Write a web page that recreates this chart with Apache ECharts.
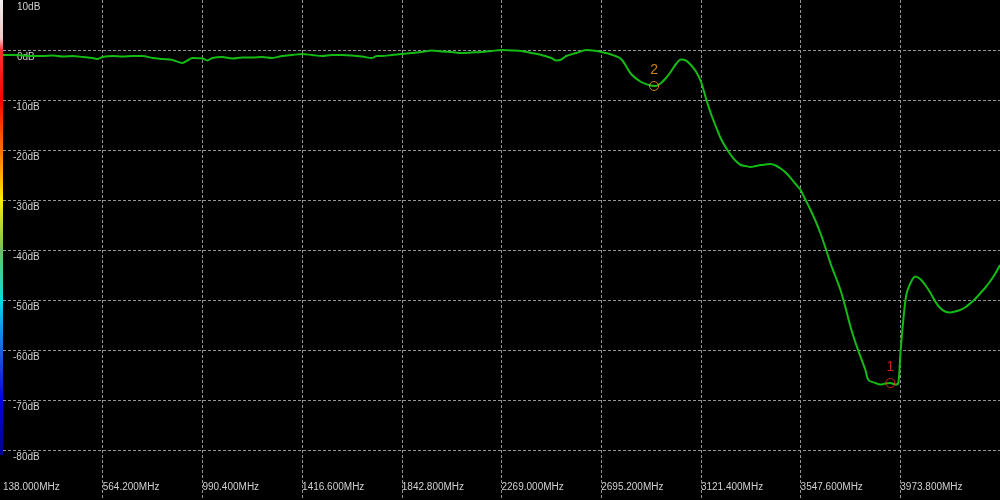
<!DOCTYPE html>
<html>
<head>
<meta charset="utf-8">
<script src="https://cdn.jsdelivr.net/npm/echarts@6/dist/echarts.min.js"></script>
<style>
html,body{margin:0;padding:0;background:#000;}
#chart{width:1000px;height:500px;}
</style>
</head>
<body>
<div id="chart"></div>
<script>
// Frequency axis (MHz)
const freqStart = 138.0;
const freqStop = 4400.0;
const freqStep = 426.2;
// Level axis (dB)
const dbMin = -90;
const dbMax = 10;
const dbStep = 10;

// Trace: frequency (MHz) and level (dB)
const traceFreq = [
  138.0, 180.6, 223.2, 265.9, 308.5, 351.1, 393.7, 436.3, 479.0, 521.6,
  542.9, 564.2, 606.8, 649.4, 692.1, 734.7, 777.3, 819.9, 862.5, 905.2,
  926.5, 947.8, 990.4, 1011.7, 1033.0, 1075.6, 1118.3, 1160.9, 1203.5, 1246.1,
  1288.7, 1331.4, 1374.0, 1416.6, 1459.2, 1501.8, 1544.5, 1587.1, 1629.7, 1672.3,
  1714.9, 1736.3, 1757.6, 1800.2, 1842.8, 1885.4, 1928.0, 1970.7, 2013.3, 2055.9,
  2098.5, 2141.1, 2183.8, 2226.4, 2269.0, 2311.6, 2354.2, 2396.9, 2439.5, 2482.1,
  2503.4, 2524.7, 2546.0, 2588.7, 2631.3, 2673.9, 2695.2, 2737.8, 2780.4, 2823.1,
  2865.7, 2908.3, 2929.6, 2950.9, 2972.2, 2993.5, 3014.9, 3036.2, 3057.5, 3078.8,
  3100.1, 3121.4, 3142.7, 3164.0, 3185.3, 3206.6, 3228.0, 3249.3, 3270.6, 3291.9,
  3313.2, 3334.5, 3355.8, 3377.1, 3398.4, 3419.7, 3441.1, 3462.4, 3483.7, 3505.0,
  3526.3, 3547.6, 3568.9, 3590.2, 3611.5, 3632.8, 3654.2, 3675.5, 3696.8, 3718.1,
  3739.4, 3760.7, 3782.0, 3803.3, 3824.6, 3837.4, 3867.3, 3888.6, 3909.9, 3931.2,
  3952.5, 3965.3, 3973.8, 3986.6, 3999.4, 4016.4, 4037.7, 4059.0, 4080.4, 4101.7,
  4123.0, 4144.3, 4165.6, 4186.9, 4208.2, 4229.5, 4250.8, 4272.1, 4293.5, 4314.8,
  4336.1, 4357.4, 4378.7, 4400.0
];
const traceDb = [
  -1.0, -1.0, -1.1, -1.2, -1.2, -1.1, -1.3, -1.2, -1.4, -1.6,
  -1.8, -1.4, -1.2, -1.3, -1.2, -1.2, -1.6, -1.8, -2.0, -2.6,
  -2.1, -1.6, -1.7, -2.1, -1.6, -1.4, -1.7, -1.5, -1.5, -1.4,
  -1.6, -1.2, -1.0, -0.8, -1.0, -1.2, -1.0, -1.0, -1.1, -1.3,
  -1.6, -1.2, -1.2, -1.0, -0.8, -0.6, -0.4, -0.1, -0.3, -0.4,
  -0.6, -0.5, -0.4, -0.2, 0.0, -0.1, -0.2, -0.6, -1.0, -1.6,
  -2.1, -1.9, -1.2, -0.6, 0.0, -0.2, -0.4, -0.9, -1.8, -4.8,
  -6.4, -7.1, -7.2, -6.6, -5.6, -4.3, -2.8, -1.9, -2.1, -3.0,
  -4.3, -6.3, -9.6, -12.7, -15.3, -17.7, -19.5, -21.0, -22.2, -23.0,
  -23.2, -23.4, -23.2, -23.0, -22.9, -22.8, -23.1, -23.7, -24.5, -25.6,
  -26.8, -28.0, -30.0, -32.0, -34.2, -36.7, -39.6, -42.7, -45.3, -48.0,
  -51.5, -55.3, -58.5, -61.3, -64.0, -66.0, -66.6, -66.9, -66.7, -66.6,
  -66.9, -66.6, -61.0, -54.0, -49.0, -46.7, -45.3, -45.8, -47.0, -48.5,
  -50.3, -51.6, -52.3, -52.5, -52.3, -52.0, -51.5, -50.7, -49.8, -48.7,
  -47.6, -46.3, -44.8, -43.0
];

// Markers
const markerNames = ['1', '2'];
const markerFreq = [3931.2, 2921.1];
const markerDb = [-66.6, -7.2];
const markerColors = ['#ff2a2a', '#ffa020'];

const chart = echarts.init(document.getElementById('chart'), null, {renderer: 'canvas'});

const traceData = traceFreq.map((f, i) => [f - freqStart, traceDb[i]]);
const markerData = markerFreq.map((f, i) => ({
  value: [f - freqStart, markerDb[i]],
  name: markerNames[i],
  itemStyle: {color: 'rgba(0,0,0,0)', borderColor: markerColors[i], borderWidth: 1},
  label: {color: markerColors[i]}
}));

const fontFamily = '"Liberation Sans", Arial, sans-serif';
const textColor = '#d0d0d0';

chart.setOption({
  backgroundColor: '#000000',
  animation: false,
  grid: {left: 0, right: 0, top: 0, bottom: 0, containLabel: false},
  xAxis: {
    type: 'value',
    min: 0,
    max: freqStop - freqStart,
    interval: freqStep,
    axisLine: {show: false},
    axisTick: {show: false},
    axisLabel: {
      inside: true,
      showMaxLabel: false,
      margin: 13,
      align: 'left',
      verticalAlign: 'middle',
      color: textColor,
      fontSize: 10,
      fontFamily: fontFamily,
      formatter: v => (v + freqStart).toFixed(3) + 'MHz'
    },
    splitLine: {
      show: true,
      showMinLine: false,
      lineStyle: {color: '#949494', width: 1, type: [3, 2]}
    }
  },
  yAxis: {
    type: 'value',
    min: dbMin,
    max: dbMax,
    interval: dbStep,
    axisLine: {show: false},
    axisTick: {show: false},
    axisLabel: {
      inside: true,
      showMinLabel: false,
      margin: 10,
      align: 'left',
      verticalAlign: 'top',
      padding: [2, 0, 0, 0],
      color: textColor,
      fontSize: 10,
      fontFamily: fontFamily,
      formatter: v => v >= 0 ? '{p|' + v + 'dB}' : v + 'dB',
      rich: {
        p: {padding: [0, 0, 0, 4], color: textColor, fontSize: 10, fontFamily: fontFamily}
      }
    },
    splitLine: {
      show: true,
      showMaxLine: false,
      lineStyle: {color: '#949494', width: 1, type: [3, 2]}
    }
  },
  graphic: [{
    type: 'rect',
    left: 0,
    top: 0,
    z: 100,
    shape: {width: 3, height: 455},
    style: {
      fill: new echarts.graphic.LinearGradient(0, 0, 0, 1, [
        {offset: 0, color: '#f0f0f0'},
        {offset: 0.085, color: '#f0c8c8'},
        {offset: 0.11, color: '#ff3030'},
        {offset: 0.22, color: '#ff0000'},
        {offset: 0.33, color: '#ff7000'},
        {offset: 0.44, color: '#ffee00'},
        {offset: 0.55, color: '#70c060'},
        {offset: 0.66, color: '#00e0e0'},
        {offset: 0.77, color: '#2060e0'},
        {offset: 0.88, color: '#0000e0'},
        {offset: 1, color: '#000090'}
      ])
    }
  }],
  series: [{
    type: 'line',
    data: traceData,
    showSymbol: false,
    smooth: 0.3,
    lineStyle: {color: '#14bb14', width: 2},
    z: 2
  }, {
    type: 'scatter',
    data: markerData,
    symbol: 'circle',
    symbolSize: 9,
    label: {
      show: true,
      position: 'top',
      distance: 4,
      fontSize: 14,
      fontFamily: fontFamily,
      formatter: p => p.name
    },
    z: 3
  }]
});
</script>
</body>
</html>
